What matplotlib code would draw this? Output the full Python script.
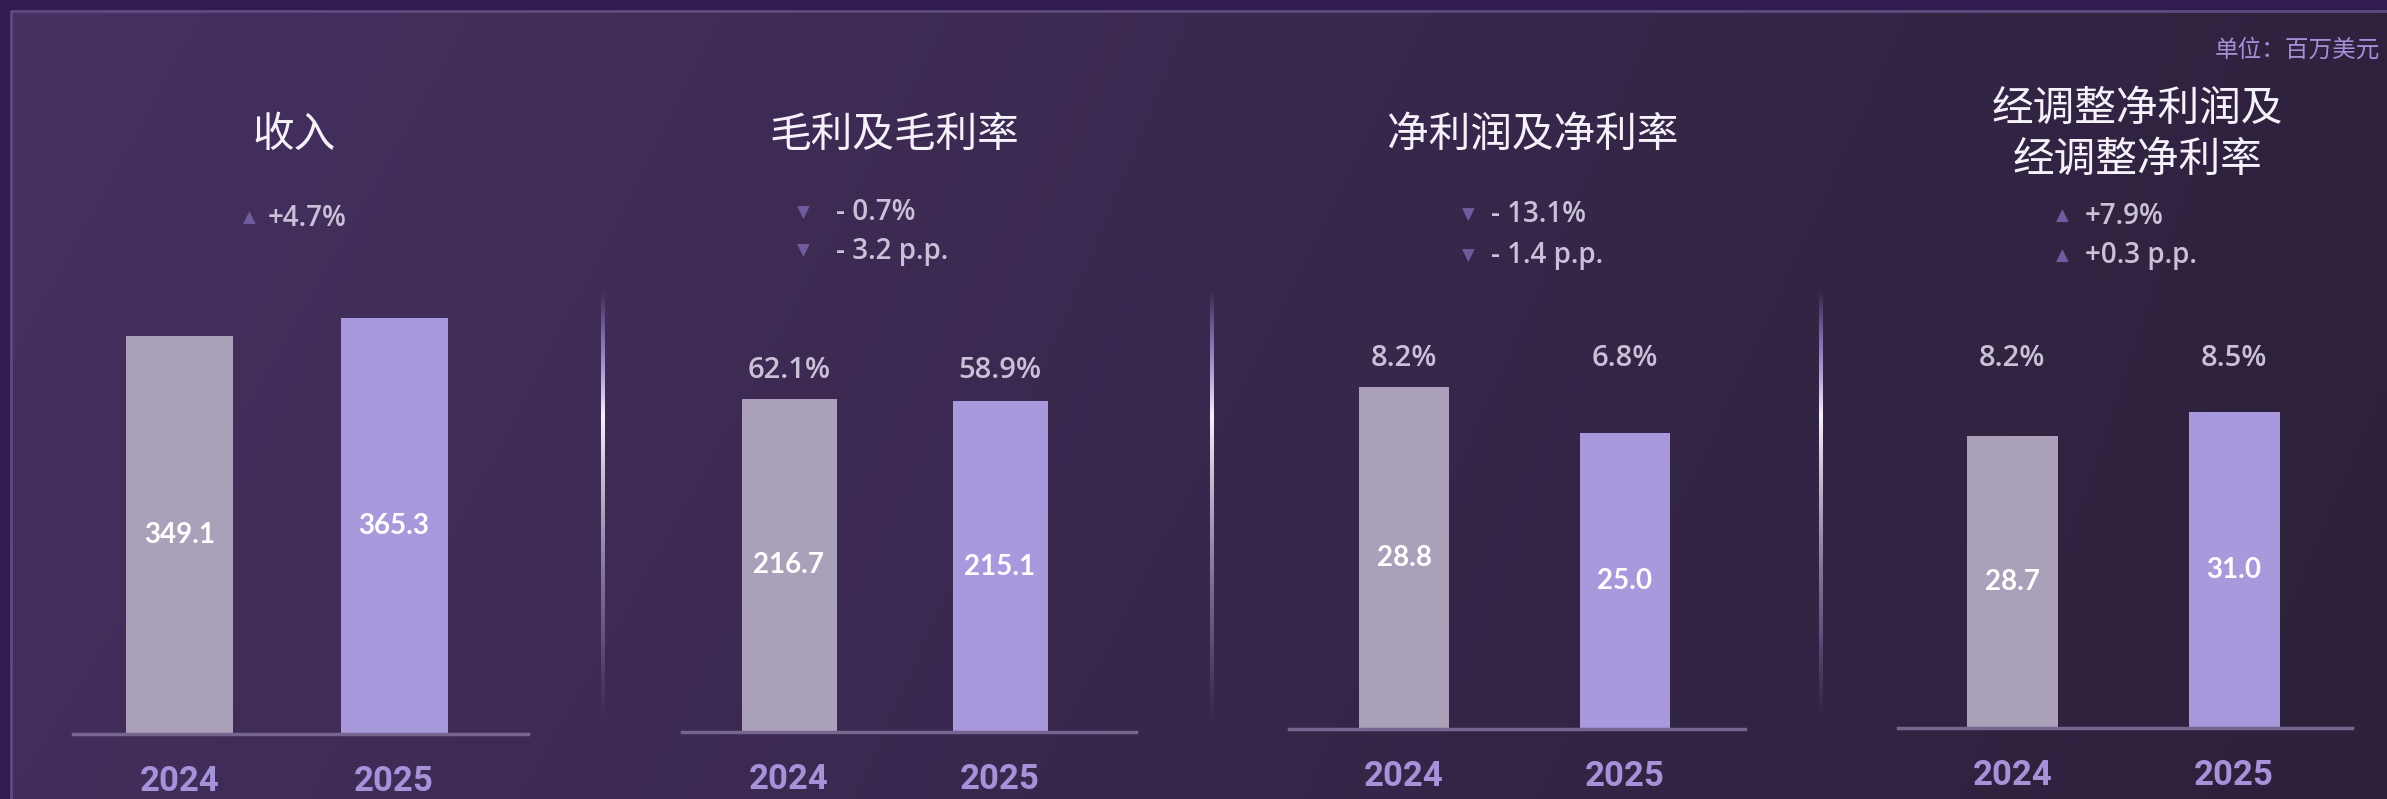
import numpy as np
import matplotlib
matplotlib.use("Agg")
import matplotlib.pyplot as plt
from matplotlib.patches import Rectangle
from matplotlib.transforms import blended_transform_factory

plt.rcParams['font.family'] = ['Lato', 'Noto Sans CJK SC', 'DejaVu Sans']

# 数据
years = ['2024', '2025']
titles = ['收入', '毛利及毛利率', '净利润及净利率', '经调整净利润及\n经调整净利率']
revenue = [349.1, 365.3]
gross_profit = [216.7, 215.1]
net_profit = [28.8, 25.0]
adj_net_profit = [28.7, 31.0]
values = [revenue, gross_profit, net_profit, adj_net_profit]
margins = [None, ['62.1%', '58.9%'], ['8.2%', '6.8%'], ['8.2%', '8.5%']]
changes = [
    [('▲', '+4.7%')],
    [('▼', '- 0.7%'), ('▼', '- 3.2 p.p.')],
    [('▼', '- 13.1%'), ('▼', '- 1.4 p.p.')],
    [('▲', '+7.9%'), ('▲', '+0.3 p.p.')],
]
unit_label = '单位：百万美元'

# 版面 (像素)
W, H = 2387, 799
base_y = [734, 732, 729, 728]
line_left = [73, 682, 1289, 1898]
line_right = [528, 1136, 1745, 2352]
bar_c0 = [179.5, 789, 1404, 2012.5]
bar_sep = [214.5, 211, 221, 221.5]
bar_w = [107, 95, 90, 91]
px_per_unit = [1.14, 1.537, 11.86, 10.18]
title_x = [294, 894, 1533, 2137]
title_y = 135
tri_x = [249, 803, 1468, 2062]
chg_x = [268, 836, 1491, 2085]
chg_y = [[218], [213, 251], [215, 256], [216, 256]]
margin_y = [None, 371, 359, 359]
sep_x = [603, 1212, 1821]

bar_colors = ['#aaa0ba', '#a898dc']

fig = plt.figure(figsize=(W / 100, H / 100), dpi=100)

# 背景
bg = fig.add_axes([0, 0, 1, 1])
bg.set_xlim(0, W)
bg.set_ylim(H, 0)
bg.axis('off')
left_c = np.array([0x46, 0x31, 0x62]) / 255
right_c = np.array([0x2f, 0x22, 0x3e]) / 255
t = np.linspace(0, 1, 400)[None, :, None]
v = np.linspace(0, 1, 100)[:, None, None]
grad = left_c * (1 - t) + right_c * t
grad = grad * (1.0 - 0.06 * v)
bg.imshow(grad, extent=(0, W, H, 0), aspect='auto', interpolation='bilinear', zorder=0)
bg.add_patch(Rectangle((0, 0), W, 9, color='#321c4f', zorder=1))
bg.add_patch(Rectangle((0, 0), 9, H, color='#321c4f', zorder=1))
bg.add_patch(Rectangle((10.5, 10.5), W + 20, H + 20, fill=False, edgecolor='#5d4a7e', lw=2, zorder=2))

# 分隔线
stops_y = [0, 0.12, 0.29, 0.5, 0.8, 1]
stops_c = [(0.62, 0.55, 0.85, 0.0), (0.62, 0.55, 0.86, 0.75), (0.97, 0.95, 1.0, 1.0),
           (0.78, 0.74, 0.84, 0.85), (0.5, 0.43, 0.62, 0.6), (0.4, 0.33, 0.5, 0.0)]
yy = np.linspace(0, 1, 300)
sep_img = np.stack([np.interp(yy, stops_y, [c[k] for c in stops_c]) for k in range(4)], axis=-1)[:, None, :]
for sx in sep_x:
    bg.imshow(sep_img, extent=(sx - 2, sx + 2, 723, 290), aspect='auto', zorder=3)

bg.text(2380, 50, unit_label, ha='right', va='center', fontsize=17, color='#a390d6',
        family=['Noto Sans CJK SC'], fontweight='medium', zorder=5)

for i in range(4):
    ax = fig.add_axes([line_left[i] / W, 1 - base_y[i] / H,
                       (line_right[i] - line_left[i]) / W, base_y[i] / H])
    ax.patch.set_visible(False)
    x = np.arange(len(years))
    ax.bar(x, values[i], width=bar_w[i] / bar_sep[i], color=bar_colors, zorder=2)
    ax.set_xlim((line_left[i] - bar_c0[i]) / bar_sep[i], (line_right[i] - bar_c0[i]) / bar_sep[i])
    ax.set_ylim(0, base_y[i] / px_per_unit[i])
    for s in ['top', 'right', 'left']:
        ax.spines[s].set_visible(False)
    ax.spines['bottom'].set_color('#76668f')
    ax.spines['bottom'].set_linewidth(2.5)
    ax.set_yticks([])
    ax.set_xticks(x)
    ax.set_xticklabels(years, fontsize=25, fontweight='bold', color='#a593d9', family=['Roboto'])
    ax.tick_params(axis='x', length=0, pad=22)

    for j, val in enumerate(values[i]):
        ax.text(j, val / 2, f'{val:.1f}', ha='center', va='center', color='white',
                fontsize=20, fontweight='bold')

    tr = blended_transform_factory(ax.transData, bg.transData)
    if margins[i] is not None:
        for j, m in enumerate(margins[i]):
            ax.text(j, margin_y[i], m, transform=tr, ha='center', va='center',
                    color='#c9c1d7', fontsize=21, fontweight='semibold', family=['Open Sans'])

    bg.text(title_x[i], title_y, titles[i], ha='center', va='center', color='#f6f2fb',
            fontsize=30, family=['Noto Sans CJK SC'], fontweight='medium',
            linespacing=1.3, zorder=5)
    for (sym, txt), cy in zip(changes[i], chg_y[i]):
        bg.text(tri_x[i], cy, sym, ha='center', va='center', color='#6f5b9e',
                fontsize=12, family=['DejaVu Sans'], zorder=5)
        bg.text(chg_x[i], cy, txt, ha='left', va='center', color='#c9c1d7',
                fontsize=20, fontweight='semibold', family=['Open Sans'], zorder=5)

fig.savefig('out.png', dpi=100)
